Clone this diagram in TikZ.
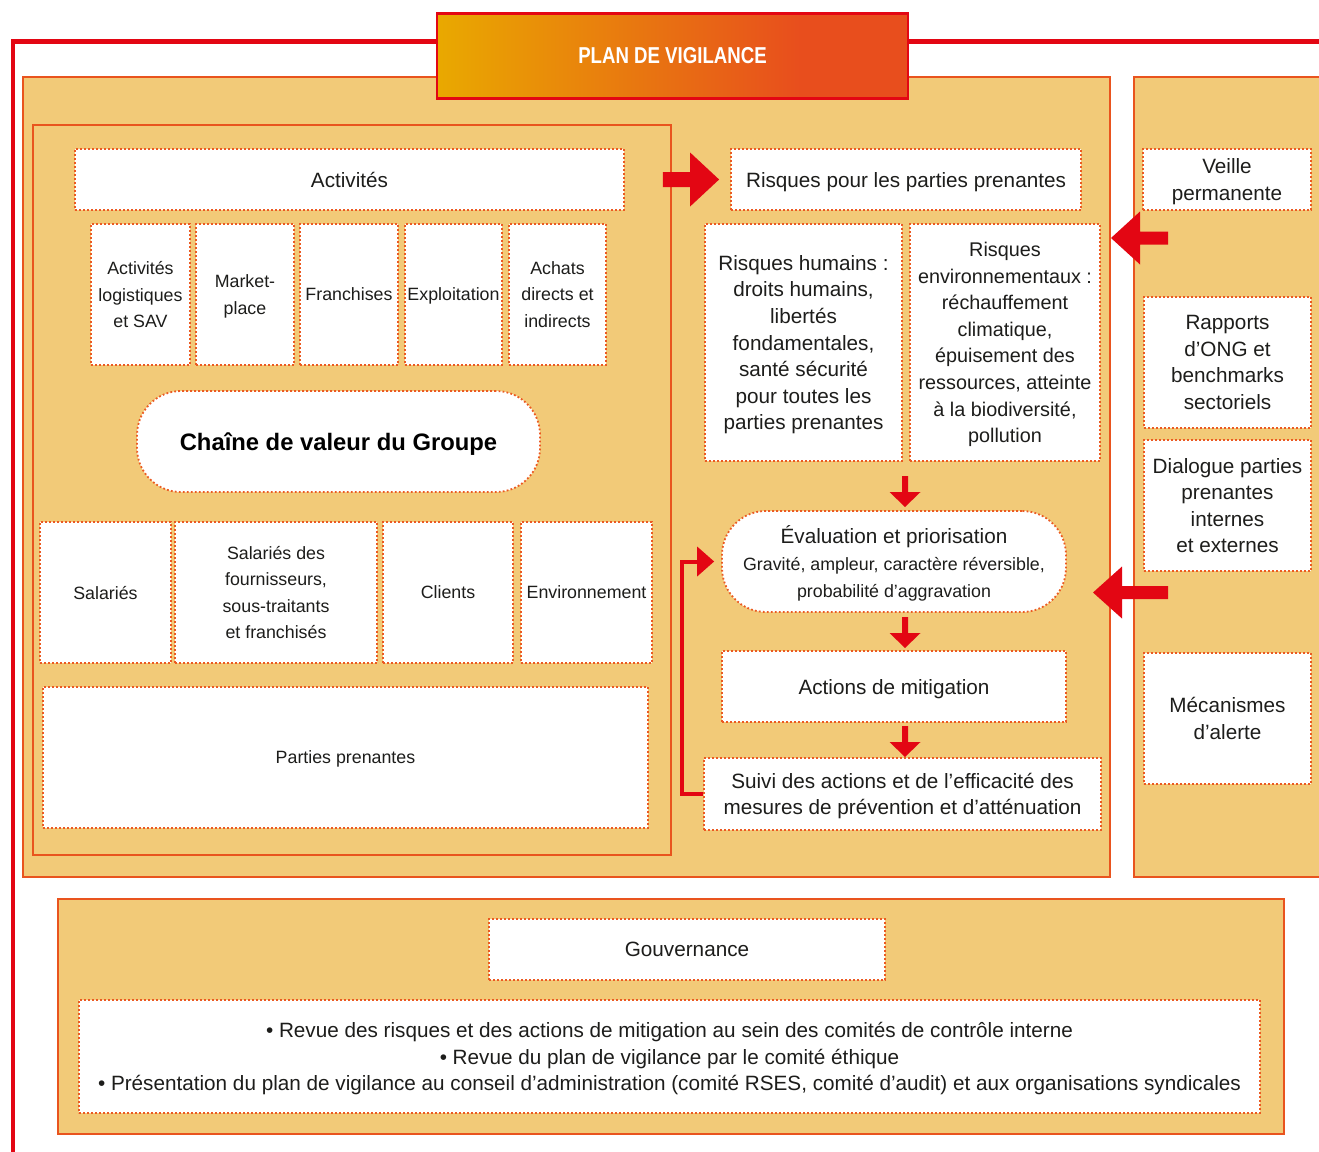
\documentclass[tikz,border=0pt]{standalone}
\usepackage{fontspec}
\setmainfont{Liberation Sans}
\usetikzlibrary{calc}
\definecolor{beige}{HTML}{F2CA78}
\definecolor{panelorange}{HTML}{E9541E}
\definecolor{dotorange}{HTML}{EB5A22}
\definecolor{arrowred}{HTML}{E30613}
\definecolor{txt}{HTML}{1D1D1B}
\definecolor{gold}{HTML}{E9A900}
\definecolor{tomato}{HTML}{E84E1D}
\newcommand\bigf{\fontsize{20.7}{26.6}\selectfont}
\newcommand\smf{\fontsize{17.8}{26.6}\selectfont}
\newcommand\blockarrow[5]{%
  \coordinate (bat) at (#1);
  \coordinate (bah) at (#2);
  \coordinate (bab) at ($(bah)!#4!(bat)$);
  \fill[arrowred] ($(bat)!#3!90:(bah)$) -- ($(bab)!#3!-90:(bat)$) -- ($(bab)!#5!-90:(bat)$) -- (bah) -- ($(bab)!#5!90:(bat)$) -- ($(bab)!#3!90:(bat)$) -- ($(bat)!#3!-90:(bah)$) -- cycle;}
\begin{document}
\begin{tikzpicture}[x=1pt,y=-1pt,
  dbox/.style={draw=dotorange, line width=1.8pt, dash pattern=on 1.8pt off 2.2pt, fill=white, inner sep=0pt, align=center, text=txt, text depth=0pt},
  panel/.style={draw=panelorange, fill=beige, line width=2.2pt},
  bigtext/.style={font=\bigf},
  smalltext/.style={font=\smf}]
\useasboundingbox (0,0) rectangle (1319,1151);
\fill[white] (0,0) rectangle (1319,1151);
% red frame
\draw[arrowred, line width=4.5pt, line join=miter] (1335,41.5) -- (13,41.5) -- (13,1165);
% panels
\draw[panel] (23,77) rectangle (1110,877);
\draw[panel] (33,125) rectangle (671,855);
\draw[panel] (1134,77) rectangle (1335,877);
\draw[panel] (58,899) rectangle (1284,1134);
% title
\shade[left color=gold, right color=tomato] (437,13) rectangle (800,98);
\fill[tomato] (799.5,13) rectangle (908,98);
\node[draw=arrowred, line width=2.5pt, minimum width=471, minimum height=85, inner sep=0pt, text=white,
  font=\fontsize{23}{26}\selectfont\bfseries] (title) at (672.5,56) {\scalebox{0.81}[1]{PLAN DE VIGILANCE}};
% left part
\node[dbox, bigtext, minimum width=549, minimum height=61] (act) at (349.5,179.5) {Activités};
\node[dbox, smalltext, minimum width=99, minimum height=141] (s1) at (140.5,294.5) {Activités\\logistiques\\et SAV};
\node[dbox, smalltext, minimum width=98, minimum height=141] (s2) at (245,294.5) {Market-\\place};
\node[dbox, smalltext, minimum width=98, minimum height=141] (s3) at (349,294.5) {Franchises};
\node[dbox, smalltext, minimum width=97, minimum height=141] (s4) at (453.5,294.5) {Exploitation};
\node[dbox, smalltext, minimum width=97, minimum height=141] (s5) at (557.5,294.5) {Achats\\directs et\\indirects};
\node[dbox, rounded corners=44pt, minimum width=403, minimum height=101, font=\fontsize{23.8}{28}\selectfont\bfseries, text=black] (chaine) at (338.5,441.5) {Chaîne de valeur du Groupe};
\node[dbox, smalltext, minimum width=131, minimum height=141] (sal) at (105.5,592.5) {Salariés};
\node[dbox, smalltext, minimum width=202, minimum height=141] (four) at (276,592.5) {Salariés des\\fournisseurs,\\sous-traitants\\et franchisés};
\node[dbox, smalltext, minimum width=130, minimum height=141] (cli) at (448,592.5) {Clients};
\node[dbox, smalltext, minimum width=131, minimum height=141] (env) at (586.5,592.5) {Environnement};
\node[dbox, smalltext, minimum width=605, minimum height=141] (pp) at (345.5,757.5) {Parties prenantes};
% middle part
\node[dbox, bigtext, minimum width=350, minimum height=61] (risk) at (906,179.5) {Risques pour les parties prenantes};
\node[dbox, bigtext, minimum width=197, minimum height=237] (rh) at (803.5,342.5) {Risques humains :\\droits humains,\\libertés\\fondamentales,\\santé sécurité\\pour toutes les\\parties prenantes};
\node[dbox, font=\fontsize{19.8}{26.6}\selectfont, minimum width=190, minimum height=237] (re) at (1005,342.5) {Risques\\environnementaux :\\réchauffement\\climatique,\\épuisement des\\ressources, atteinte\\à la biodiversité,\\pollution};
\node[dbox, bigtext, rounded corners=44pt, minimum width=344, minimum height=101] (eval) at (894,561.5) {Évaluation et priorisation\\{\smf Gravité, ampleur, caractère réversible,}\\{\smf probabilité d’aggravation}};
\node[dbox, bigtext, minimum width=344, minimum height=71] (mit) at (894,686.5) {Actions de mitigation};
\node[dbox, bigtext, minimum width=397, minimum height=72] (suivi) at (902.5,794) {Suivi des actions et de l’efficacité des\\mesures de prévention et d’atténuation};
% right part
\node[dbox, bigtext, minimum width=168, minimum height=61] (veille) at (1227,179.5) {Veille\\permanente};
\node[dbox, bigtext, minimum width=167, minimum height=131] (ong) at (1227.5,362.5) {Rapports\\d’ONG et\\benchmarks\\sectoriels};
\node[dbox, bigtext, minimum width=167, minimum height=131] (dial) at (1227.5,505.5) {Dialogue parties\\prenantes\\internes\\et externes};
\node[dbox, bigtext, minimum width=167, minimum height=131] (meca) at (1227.5,718.5) {Mécanismes\\d’alerte};
% bottom
\node[dbox, bigtext, minimum width=396, minimum height=61] (gouv) at (687,949.5) {Gouvernance};
\node[dbox, bigtext, minimum width=1181, minimum height=113] (bul) at (669.5,1056.5) {• Revue des risques et des actions de mitigation au sein des comités de contrôle interne\\• Revue du plan de vigilance par le comité éthique\\• Présentation du plan de vigilance au conseil d’administration (comité RSES, comité d’audit) et aux organisations syndicales};
% arrows
\coordinate (a1t) at ($(act.east)+(38,0)$);
\coordinate (a1h) at ($(risk.west)+(-11,0)$);
\blockarrow{a1t}{a1h}{7.5pt}{29pt}{27pt}
\coordinate (l1t) at (1168,238);
\coordinate (l1h) at (1111,238);
\blockarrow{l1t}{l1h}{6.5pt}{29pt}{26.5pt}
\coordinate (l2t) at (1168,592.5);
\coordinate (l2h) at (1093,592.5);
\blockarrow{l2t}{l2h}{6.5pt}{29pt}{26pt}
\coordinate (d1t) at (905,476);
\coordinate (d1h) at (905,507);
\blockarrow{d1t}{d1h}{3pt}{15pt}{15.5pt}
\coordinate (d2t) at (905,617);
\coordinate (d2h) at (905,648);
\blockarrow{d2t}{d2h}{3pt}{15pt}{15.5pt}
\coordinate (d3t) at (905,726);
\coordinate (d3h) at (905,757);
\blockarrow{d3t}{d3h}{3pt}{15pt}{15.5pt}
% feedback loop
\coordinate (fbbase) at ($(eval.west)+(-24,0)$);
\coordinate (fbtip) at ($(eval.west)+(-7,0)$);
\draw[arrowred, line width=4pt, line join=miter] (suivi.west) -- ++(-21,0) |- (fbbase);
\fill[arrowred] ($(fbbase)+(0,-15)$) -- (fbtip) -- ($(fbbase)+(0,15)$) -- cycle;
\end{tikzpicture}
\end{document}
